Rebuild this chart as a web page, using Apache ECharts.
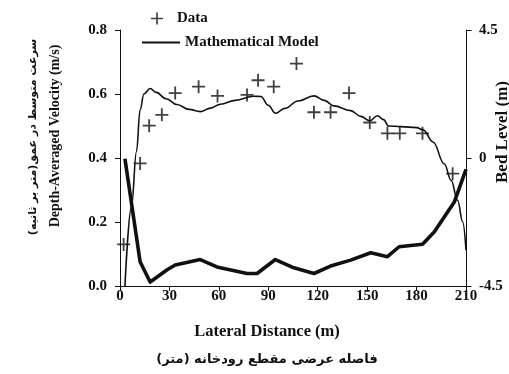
<!DOCTYPE html>
<html>
<head>
<meta charset="utf-8">
<script src="https://cdn.jsdelivr.net/npm/echarts@6/dist/echarts.min.js"></script>
<style>
html, body { margin: 0; padding: 0; background: #fff; }
#chart { width: 509px; height: 374px; }
</style>
</head>
<body>
<div id="chart"></div>
<script>
// measured points (Data)
var dataX = [2.2, 12.2, 17.7, 25.4, 33.5, 47.7, 59.2, 77.1, 83.8, 93.3, 107.1, 117.7, 127.8, 139.0, 151.6, 162.3, 169.8, 183.6, 201.9];
var dataV = [0.13, 0.383, 0.501, 0.535, 0.603, 0.623, 0.594, 0.597, 0.643, 0.623, 0.695, 0.543, 0.543, 0.603, 0.511, 0.477, 0.477, 0.477, 0.351];

// mathematical model curve
var modelX = [3.0, 7.0, 10.0, 12.2, 14.5, 18.3, 22, 28, 34.5, 42, 48.7, 55, 60.9, 70, 81.1, 85.5, 90, 94.3, 100, 108, 117.7, 124, 129.8, 140, 146.1, 151.6, 156.3, 160, 163, 170.4, 180, 184, 190, 196.8, 201, 204.9, 208, 210];
var modelV = [0.0, 0.25, 0.42, 0.55, 0.60, 0.617, 0.605, 0.585, 0.567, 0.552, 0.545, 0.556, 0.568, 0.58, 0.593, 0.592, 0.565, 0.54, 0.555, 0.578, 0.594, 0.58, 0.563, 0.548, 0.53, 0.516, 0.532, 0.52, 0.50, 0.498, 0.495, 0.488, 0.45, 0.382, 0.33, 0.268, 0.2, 0.112];

// bed level (right axis)
var bedX = [3, 12.2, 18.3, 28.4, 33.5, 48.7, 58.8, 77.1, 83.2, 94.3, 104.5, 117.7, 127.8, 140, 152.2, 162.3, 169.4, 183.6, 190.7, 202.9, 210];
var bedZ = [-0.03, -3.65, -4.36, -3.94, -3.76, -3.57, -3.83, -4.06, -4.06, -3.57, -3.84, -4.06, -3.80, -3.59, -3.33, -3.47, -3.12, -3.03, -2.6, -1.55, -0.4];

// axis ticks
var velTicks = [0, 0.2, 0.4, 0.6, 0.8];
var bedTicks = [-4.5, 0, 4.5];

function zip(a, b) {
    var out = [];
    for (var i = 0; i < a.length; i++) out.push([a[i], b[i]]);
    return out;
}

var serif = '"Liberation Serif", "Times New Roman", serif';
var plus = 'path://M0,4.3H10V5.7H0ZM4.3,0H5.7V10H4.3Z';
var ink = '#111';

var myChart = echarts.init(document.getElementById('chart'));
var option = {
    animation: false,
    grid: { left: 120, right: 43, top: 30, bottom: 88 },
    legend: [
        {
            data: [{ name: 'Data', icon: plus }],
            left: 146,
            top: 6,
            itemWidth: 30,
            itemHeight: 12,
            textStyle: { fontFamily: serif, fontWeight: 'bold', fontSize: 15, color: ink }
        },
        {
            data: [{ name: 'Mathematical Model', icon: 'rect' }],
            left: 137,
            top: 30,
            itemWidth: 38,
            itemHeight: 2,
            textStyle: { fontFamily: serif, fontWeight: 'bold', fontSize: 15, color: ink }
        }
    ],
    xAxis: {
        type: 'value',
        min: 0,
        max: 210,
        interval: 30,
        axisLine: { onZero: false, lineStyle: { color: ink } },
        axisTick: { lineStyle: { color: ink }, length: 5 },
        splitLine: { show: false },
        axisLabel: { fontFamily: serif, fontWeight: 'bold', fontSize: 15, color: ink, margin: 3 }
    },
    yAxis: [
        {
            type: 'value',
            position: 'left',
            min: 0,
            max: 0.8,
            interval: 0.2,
            axisLine: { show: true, onZero: false, lineStyle: { color: ink } },
            axisTick: { show: true, lineStyle: { color: ink }, length: 5 },
            splitLine: { show: false },
            axisLabel: {
                fontFamily: serif, fontWeight: 'bold', fontSize: 15, color: ink, margin: 13,
                formatter: function (v) { return v.toFixed(1); }
            }
        },
        {
            type: 'value',
            position: 'right',
            min: -4.5,
            max: 4.5,
            interval: 4.5,
            axisLine: { show: true, onZero: false, lineStyle: { color: ink } },
            axisTick: { show: true, lineStyle: { color: ink }, length: 5 },
            splitLine: { show: false },
            axisLabel: { fontFamily: serif, fontWeight: 'bold', fontSize: 15, color: ink, margin: 13 }
        }
    ],
    series: [
        {
            name: 'Data',
            type: 'scatter',
            data: zip(dataX, dataV),
            symbol: plus,
            symbolSize: 13,
            itemStyle: { color: ink },
            z: 5
        },
        {
            name: 'Mathematical Model',
            type: 'line',
            data: zip(modelX, modelV),
            showSymbol: false,
            symbol: 'none',
            smooth: 0.4,
            smoothMonotone: 'x',
            lineStyle: { color: ink, width: 1.6 },
            itemStyle: { color: ink },
            z: 4
        },
        {
            name: 'Bed Level',
            type: 'line',
            yAxisIndex: 1,
            data: zip(bedX, bedZ),
            showSymbol: false,
            symbol: 'none',
            lineStyle: { color: ink, width: 3.6, join: 'round' },
            itemStyle: { color: ink },
            z: 3
        }
    ]
};
myChart.setOption(option);

// titles
var graphics = [
    {
        type: 'text', x: 55, y: 136, rotation: Math.PI / 2,
        style: { text: 'Depth-Averaged Velocity (m/s)', font: 'bold 14px ' + serif, fill: ink, align: 'center', verticalAlign: 'middle' }
    },
    {
        type: 'text', x: 33, y: 137, rotation: Math.PI / 2,
        style: { text: 'سرعت متوسط در عمق(متر بر ثانیه)', font: 'bold 11px "DejaVu Sans", sans-serif', fill: ink, align: 'center', verticalAlign: 'middle' }
    },
    {
        type: 'text', x: 503, y: 132, rotation: Math.PI / 2,
        style: { text: 'Bed Level (m)', font: 'bold 17px ' + serif, fill: ink, align: 'center', verticalAlign: 'middle' }
    },
    {
        type: 'text', x: 267, y: 332,
        style: { text: 'Lateral Distance (m)', font: 'bold 16.5px ' + serif, fill: ink, align: 'center', verticalAlign: 'middle' }
    },
    {
        type: 'text', x: 267, y: 360,
        style: { text: 'فاصله عرضی مقطع رودخانه (متر)', font: 'bold 13px "DejaVu Sans", sans-serif', fill: ink, align: 'center', verticalAlign: 'middle' }
    }
];

// left axis line and outward ticks, placed through the chart's own scales
var xLeft = Math.floor(myChart.convertToPixel({ xAxisIndex: 0 }, 0)) + 0.5;
var xRight = Math.floor(myChart.convertToPixel({ xAxisIndex: 0 }, 210)) + 0.5;
var yTop = myChart.convertToPixel({ yAxisIndex: 0 }, 0.8);
var yBot = myChart.convertToPixel({ yAxisIndex: 0 }, 0);
graphics.push({ type: 'line', shape: { x1: xLeft, y1: yTop, x2: xLeft, y2: yBot }, style: { stroke: ink, lineWidth: 1 }, z: 10 });
velTicks.forEach(function (v) {
    var py = Math.floor(myChart.convertToPixel({ yAxisIndex: 0 }, v)) + 0.5;
    graphics.push({ type: 'line', shape: { x1: xLeft - 5, y1: py, x2: xLeft, y2: py }, style: { stroke: ink, lineWidth: 1 }, z: 10 });
});
bedTicks.forEach(function (v) {
    var py = Math.floor(myChart.convertToPixel({ yAxisIndex: 1 }, v)) + 0.5;
    graphics.push({ type: 'line', shape: { x1: xRight, y1: py, x2: xRight + 5, y2: py }, style: { stroke: ink, lineWidth: 1 }, z: 10 });
});
myChart.setOption({ graphic: graphics });
</script>
</body>
</html>
